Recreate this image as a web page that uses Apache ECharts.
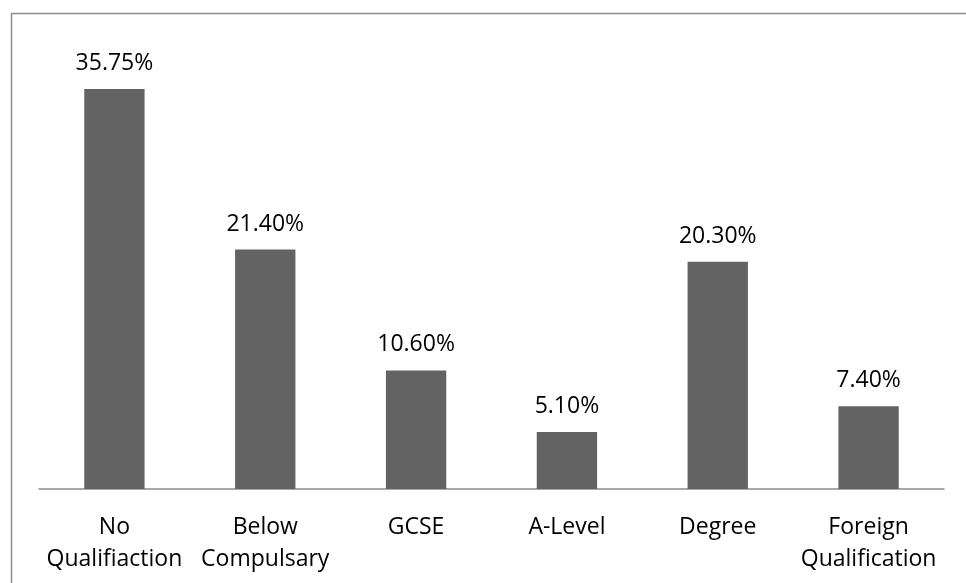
<!DOCTYPE html>
<html>
<head>
<meta charset="utf-8">
<script src="https://cdn.jsdelivr.net/npm/echarts@6/dist/echarts.min.js"></script>
<style>
  html, body { margin: 0; padding: 0; background: #ffffff; }
  #chart { width: 966px; height: 583px; }
</style>
</head>
<body>
<div id="chart"></div>
<script>
// Share of respondents by highest qualification
const categories = ['No\nQualifiaction', 'Below\nCompulsary', 'GCSE', 'A-Level', 'Degree', 'Foreign\nQualification'];
const shares = [35.75, 21.40, 10.60, 5.10, 20.30, 7.40];

const FONT = '"Open Sans", "Liberation Sans", sans-serif';

const chart = echarts.init(document.getElementById('chart'), null, { renderer: 'canvas' });

chart.setOption({
  animation: false,
  backgroundColor: '#ffffff',
  graphic: [{
    type: 'rect',
    left: 9,
    top: 11,
    shape: { x: 0, y: 0, width: 1000, height: 620 },
    style: { fill: 'none', stroke: '#8c8c8c', lineWidth: 1.5 },
    silent: true
  }],
  grid: { left: 39, right: 22, top: 41.45, bottom: 94, containLabel: false },
  xAxis: {
    type: 'category',
    data: categories,
    axisLine: { show: true, lineStyle: { color: '#8c8c8c', width: 1.5 } },
    axisTick: { show: false },
    axisLabel: {
      color: '#000000',
      fontFamily: FONT,
      fontSize: 23,
      lineHeight: 32,
      margin: 22,
      interval: 0
    }
  },
  yAxis: {
    type: 'value',
    min: 0,
    max: 40,
    show: false,
    splitLine: { show: false }
  },
  series: [{
    type: 'bar',
    data: shares,
    barWidth: '40%',
    itemStyle: { color: '#636363' },
    label: {
      show: true,
      position: 'top',
      distance: 14,
      color: '#000000',
      fontFamily: FONT,
      fontSize: 23,
      formatter: p => p.value.toFixed(2) + '%'
    }
  }]
});
</script>
</body>
</html>
